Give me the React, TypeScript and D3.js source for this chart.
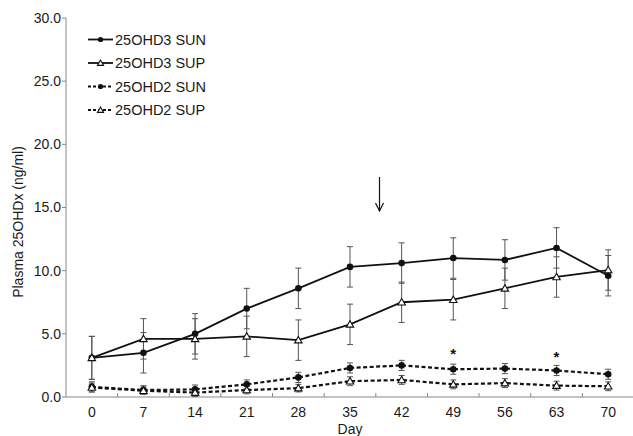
import { useMemo } from "react";
import * as d3 from "d3";

const days = [0, 7, 14, 21, 28, 35, 42, 49, 56, 63, 70];

// 25OHD3
const d3Sun = [3.1, 3.5, 5.0, 7.0, 8.6, 10.3, 10.6, 11.0, 10.85, 11.8, 9.6];
const d3SunErr = [1.7, 1.6, 1.6, 1.6, 1.6, 1.6, 1.6, 1.6, 1.6, 1.6, 1.6];
const d3Sup = [3.1, 4.6, 4.6, 4.8, 4.5, 5.75, 7.5, 7.7, 8.6, 9.5, 10.05];
const d3SupErr = [1.7, 1.6, 1.6, 1.6, 1.6, 1.6, 1.6, 1.6, 1.6, 1.6, 1.6];

// 25OHD2
const d2Sun = [0.8, 0.55, 0.6, 1.0, 1.55, 2.3, 2.5, 2.2, 2.25, 2.1, 1.8];
const d2SunErr = [0.4, 0.35, 0.35, 0.35, 0.4, 0.4, 0.4, 0.4, 0.4, 0.4, 0.4];
const d2Sup = [0.75, 0.5, 0.35, 0.55, 0.7, 1.25, 1.35, 1.0, 1.1, 0.9, 0.85];
const d2SupErr = [0.35, 0.3, 0.3, 0.3, 0.3, 0.35, 0.35, 0.35, 0.35, 0.35, 0.35];

const yTicks = [0, 5, 10, 15, 20, 25, 30];
const starDays = [49, 63];
const arrowDay = 39;

const series = [
  { name: "25OHD3 SUN", values: d3Sun, err: d3SunErr, marker: "circle", dashed: false },
  { name: "25OHD3 SUP", values: d3Sup, err: d3SupErr, marker: "triangle", dashed: false },
  { name: "25OHD2 SUN", values: d2Sun, err: d2SunErr, marker: "circle", dashed: true },
  { name: "25OHD2 SUP", values: d2Sup, err: d2SupErr, marker: "triangle", dashed: true },
];

const W = 633;
const H = 436;
const font = "Liberation Sans, Arial, sans-serif";

const Marker = ({ type, cx, cy, small }: { type: string; cx: number; cy: number; small?: boolean }) =>
  type === "circle" ? (
    <circle cx={cx} cy={cy} r={small ? 2.6 : 3.3} fill="#111" />
  ) : (
    <path
      d={d3.symbol(d3.symbolTriangle, small ? 16 : 24)()!}
      transform={`translate(${cx},${cy + 0.6})`}
      fill="#fff"
      stroke="#111"
      strokeWidth={1.1}
    />
  );

export default function App() {
  const x = useMemo(() => d3.scaleLinear().domain([-3.5, 73.5]).range([66, 634]), []);
  const y = useMemo(() => d3.scaleLinear().domain([0, 30]).range([397, 18]), []);
  const line = d3
    .line<number>()
    .x((_, i) => x(days[i]))
    .y((d) => y(d));
  const minorTicks = days.slice(0, -1).map((d) => d + 3.5);

  return (
    <svg width={W} height={H} style={{ position: "absolute", left: 0, top: 0, background: "#fff" }} fontFamily={font}>
      {/* y axis */}
      <line x1={x(-3.5)} x2={x(-3.5)} y1={y(30)} y2={y(0)} stroke="#888" strokeWidth={1} />
      {yTicks.map((t) => (
        <g key={t}>
          <line x1={x(-3.5) - 4} x2={x(-3.5)} y1={y(t)} y2={y(t)} stroke="#888" />
          <text x={x(-3.5) - 5} y={y(t)} dy="0.35em" textAnchor="end" fontSize={14} fill="#1a1a1a">
            {t.toFixed(1)}
          </text>
        </g>
      ))}
      {/* x axis */}
      <line x1={x(-3.5)} x2={W} y1={y(0)} y2={y(0)} stroke="#888" strokeWidth={1} />
      {minorTicks.map((t) => (
        <line key={t} x1={x(t)} x2={x(t)} y1={y(0) - 4} y2={y(0)} stroke="#888" />
      ))}
      {days.map((d) => (
        <text key={d} x={x(d)} y={417} textAnchor="middle" fontSize={14} fill="#1a1a1a">
          {d}
        </text>
      ))}
      <text x={350} y={434} textAnchor="middle" fontSize={14} fill="#1a1a1a">
        Day
      </text>
      <text
        transform={`translate(23,222) rotate(-90)`}
        textAnchor="middle"
        fontSize={14}
        fill="#1a1a1a"
      >
        Plasma 25OHDx (ng/ml)
      </text>

      {/* error bars */}
      {series.map((s) =>
        s.values.map((v, i) => {
          const cx = x(days[i]);
          return (
            <g key={s.name + i} stroke="#555" strokeWidth={1}>
              <line x1={cx} x2={cx} y1={y(v - s.err[i])} y2={y(v + s.err[i])} />
              <line x1={cx - 3} x2={cx + 3} y1={y(v - s.err[i])} y2={y(v - s.err[i])} />
              <line x1={cx - 3} x2={cx + 3} y1={y(v + s.err[i])} y2={y(v + s.err[i])} />
            </g>
          );
        })
      )}

      {/* lines */}
      {series.map((s) => (
        <path
          key={s.name}
          d={line(s.values)!}
          fill="none"
          stroke="#111"
          strokeWidth={s.dashed ? 2.2 : 1.8}
          strokeDasharray={s.dashed ? "4,2.5" : undefined}
        />
      ))}
      {series.map((s) =>
        s.values.map((v, i) => <Marker key={s.name + "m" + i} type={s.marker} cx={x(days[i])} cy={y(v)} />)
      )}

      {/* significance stars */}
      {starDays.map((d, k) => (
        <text key={d} x={x(d)} y={[359, 362][k]} textAnchor="middle" fontSize={15} fontWeight="bold" fill="#111">
          *
        </text>
      ))}

      {/* arrow */}
      <g stroke="#111" strokeWidth={1.2} fill="none">
        <line x1={x(arrowDay)} x2={x(arrowDay)} y1={177} y2={211} />
        <path d={`M${x(arrowDay) - 4},${203} L${x(arrowDay)},${211} L${x(arrowDay) + 4},${203}`} />
      </g>

      {/* legend */}
      {series.map((s, i) => {
        const ly = 39.5 + i * 23.5;
        return (
          <g key={s.name}>
            <line
              x1={88}
              x2={113}
              y1={ly}
              y2={ly}
              stroke="#111"
              strokeWidth={s.dashed ? 1.8 : 1.8}
              strokeDasharray={s.dashed ? "3,2" : undefined}
            />
            <Marker type={s.marker} cx={100.5} cy={ly} small />
            <text x={115} y={ly} dy="0.36em" fontSize={14.5} fill="#1a1a1a">
              {s.name}
            </text>
          </g>
        );
      })}
    </svg>
  );
}
